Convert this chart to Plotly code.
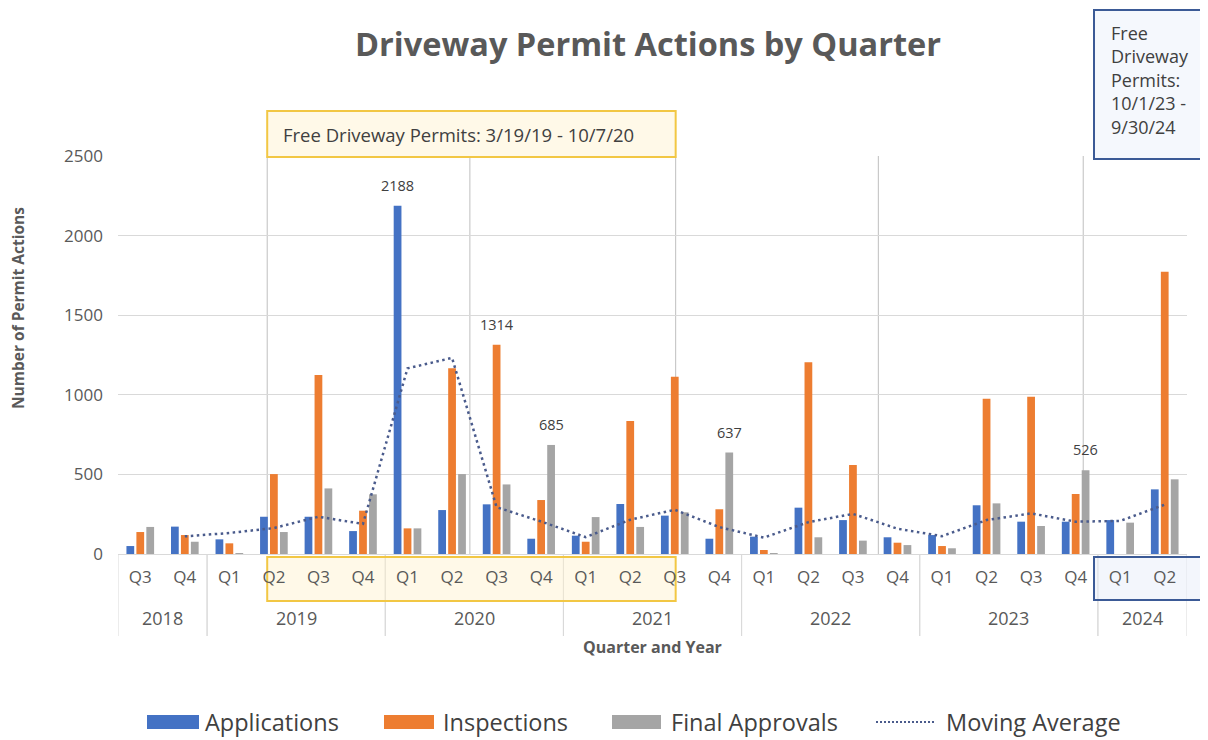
import plotly.graph_objects as go

# ---------------- data ----------------
quarters = ["Q3", "Q4",
            "Q1", "Q2", "Q3", "Q4",
            "Q1", "Q2", "Q3", "Q4",
            "Q1", "Q2", "Q3", "Q4",
            "Q1", "Q2", "Q3", "Q4",
            "Q1", "Q2", "Q3", "Q4",
            "Q1", "Q2"]
years = ["2018"] * 2 + ["2019"] * 4 + ["2020"] * 4 + ["2021"] * 4 + \
        ["2022"] * 4 + ["2023"] * 4 + ["2024"] * 2

applications = [50, 172, 92, 234, 234, 144, 2188, 276, 312, 96, 115, 314,
                241, 96, 109, 291, 213, 105, 119, 306, 203, 203, 213, 406]
inspections = [138, 119, 67, 502, 1124, 272, 161, 1166, 1314, 339, 77, 835,
               1114, 281, 25, 1204, 559, 71, 50, 975, 988, 377, 0, 1773]
final_approvals = [170, 77, 5, 138, 412, 375, 161, 502, 437, 685, 232, 170,
                   262, 637, 3, 105, 84, 56, 36, 318, 176, 526, 197, 469]
moving_average = [None, 111, 132, 163, 234, 189, 1166, 1232, 294, 204, 106, 215,
                  278, 169, 103, 200, 252, 159, 112, 213, 255, 203, 208, 310]
y_ticks = [0, 500, 1000, 1500, 2000, 2500]

# data labels shown on the chart: (series name, category index)
labeled_points = [("Applications", 6), ("Inspections", 8),
                  ("Final Approvals", 9), ("Final Approvals", 13),
                  ("Final Approvals", 21)]

# ---------------- styling ----------------
C_APP = "#4472C4"
C_INS = "#ED7D31"
C_FIN = "#A5A5A5"
C_MA = "#4A5B8C"
TXT = "#595959"
DARK = "#404040"
FONT = "Open Sans"

OFF = 8                      # page body margin
W, H = 1200, 732
L, R, T, B = 110, 21, 148, 186
plot_w = W - L - R
plot_h = H - T - B


def py(pix):
    """screen pixel row -> paper y"""
    return (H - B - (pix - OFF)) / plot_h


def px(pix):
    """screen pixel column -> paper x"""
    return (pix - OFF - L) / plot_w


x = list(range(len(quarters)))

fig = go.Figure()
series = {
    "Applications": (applications, C_APP),
    "Inspections": (inspections, C_INS),
    "Final Approvals": (final_approvals, C_FIN),
}
for name, (vals, col) in series.items():
    fig.add_trace(go.Bar(x=x, y=vals, name=name, showlegend=False,
                         marker=dict(color=col, line=dict(width=0))))

MA_DASH = "2.5px,3.5px"
fig.add_trace(go.Scatter(x=x, y=moving_average, name="Moving Average", mode="lines",
                         showlegend=False,
                         line=dict(color=C_MA, width=2.5, dash=MA_DASH),
                         connectgaps=False))

bargap = 0.33
bargroupgap = 0.22
cat_px = plot_w / len(quarters)
slot_px = cat_px * (1 - bargap) / 3
offsets = {"Applications": -slot_px, "Inspections": 0, "Final Approvals": slot_px}

annotations = []
shapes = []

# data labels
for name, idx in labeled_points:
    vals = series[name][0]
    annotations.append(dict(x=idx, y=vals[idx], xref="x", yref="y", text=str(vals[idx]),
                            showarrow=False, xshift=offsets[name], yshift=9,
                            yanchor="bottom", font=dict(family=FONT, size=14.5, color=DARK)))

# year labels & dividers
year_order = []
for yv in years:
    if yv not in year_order:
        year_order.append(yv)
for yv in year_order:
    idxs = [i for i, v in enumerate(years) if v == yv]
    annotations.append(dict(x=(idxs[0] + idxs[-1]) / 2, y=py(618), xref="x", yref="paper",
                            text=yv, showarrow=False, yanchor="middle",
                            font=dict(family=FONT, size=18, color=TXT)))
    for bnd in (idxs[0] - 0.5, idxs[-1] + 0.5):
        shapes.append(dict(type="line", xref="x", yref="paper", x0=bnd, x1=bnd,
                           y0=0, y1=py(636), line=dict(color="#D9D9D9", width=1), layer="below"))

# vertical reference lines inside the plot
for xv in [2.85, 7.40, 12.02, 16.57, 21.17]:
    shapes.append(dict(type="line", xref="x", yref="y", x0=xv, x1=xv, y0=0, y1=2500,
                       line=dict(color="#BFBFBF", width=1), layer="below"))

# free-permit period boxes
shapes.append(dict(type="rect", xref="x", yref="paper", x0=2.85, x1=12.02,
                   y0=py(601), y1=py(557), fillcolor="rgba(255,242,204,0.45)",
                   line=dict(color="#F2C744", width=2), layer="below"))
shapes.append(dict(type="rect", xref="x", yref="paper", x0=2.85, x1=12.02,
                   y0=py(157), y1=py(111), fillcolor="#FFF9E8",
                   line=dict(color="#F2C744", width=2), layer="above"))
shapes.append(dict(type="rect", xref="paper", yref="paper", x0=px(1094), x1=px(1214),
                   y0=py(600), y1=py(557), fillcolor="rgba(232,238,250,0.5)",
                   line=dict(color="#3B5A96", width=2), layer="below"))
shapes.append(dict(type="rect", xref="paper", yref="paper", x0=px(1094), x1=px(1214),
                   y0=py(159), y1=py(10), fillcolor="#F5F8FD",
                   line=dict(color="#3B5A96", width=2), layer="above"))

annotations.append(dict(x=px(281), y=py(134), xref="paper", yref="paper",
                        text="Free Driveway Permits: 3/19/19 - 10/7/20", showarrow=False,
                        xanchor="left", yanchor="middle",
                        font=dict(family=FONT, size=18.5, color=DARK)))
annotations.append(dict(x=px(1109), y=py(19), xref="paper", yref="paper",
                        text="Free<br>Driveway<br>Permits:<br>10/1/23 -<br>9/30/24",
                        showarrow=False, xanchor="left", yanchor="top", align="left",
                        font=dict(family=FONT, size=18, color=DARK)))

# axis titles
annotations.append(dict(x=px(652), y=py(647), xref="paper", yref="paper",
                        text="<b>Quarter and Year</b>", showarrow=False, yanchor="middle",
                        font=dict(family=FONT, size=16, color=TXT)))
annotations.append(dict(x=px(18), y=py(308), xref="paper", yref="paper",
                        text="<b>Number of Permit Actions</b>", showarrow=False, textangle=-90,
                        xanchor="center", yanchor="middle",
                        font=dict(family=FONT, size=15.5, color=TXT)))

# legend (drawn to match the original's wide swatches)
LEG_Y = 722
legend_items = [("Applications", C_APP, 147, 199, 203),
                ("Inspections", C_INS, 384, 434, 441),
                ("Final Approvals", C_FIN, 612, 661, 669),
                ("Moving Average", C_MA, 876, 936, 944)]
for name, col, s0, s1, tx in legend_items:
    if name == "Moving Average":
        shapes.append(dict(type="line", xref="paper", yref="paper", x0=px(s0), x1=px(s1),
                           y0=py(LEG_Y), y1=py(LEG_Y),
                           line=dict(color=col, width=2, dash="2px,2px")))
    else:
        shapes.append(dict(type="rect", xref="paper", yref="paper", x0=px(s0), x1=px(s1),
                           y0=py(LEG_Y + 7), y1=py(LEG_Y - 7), fillcolor=col, line=dict(width=0)))
    annotations.append(dict(x=px(tx), y=py(LEG_Y), xref="paper", yref="paper", text=name,
                            showarrow=False, xanchor="left", yanchor="middle",
                            font=dict(family=FONT, size=23.5, color=DARK)))

fig.update_layout(
    width=W, height=H,
    margin=dict(l=L, r=R, t=T, b=B, autoexpand=False),
    paper_bgcolor="white", plot_bgcolor="white",
    barmode="group", bargap=bargap, bargroupgap=bargroupgap,
    showlegend=False,
    title=dict(text="<b>Driveway Permit Actions by Quarter</b>", x=px(648), xref="paper",
               xanchor="center", y=1 - (45 - OFF) / H, yanchor="middle",
               font=dict(family=FONT, size=32.5, color=TXT)),
    font=dict(family=FONT, color=TXT),
    xaxis=dict(range=[-0.5, len(quarters) - 0.5], tickmode="array", tickvals=x,
               ticktext=quarters, ticks="", showgrid=False, zeroline=False, showline=False,
               tickfont=dict(family=FONT, size=17, color=TXT), ticklabelstandoff=11,
               fixedrange=True),
    yaxis=dict(range=[0, 2500], tickmode="array", tickvals=y_ticks, showgrid=True,
               gridcolor="#D9D9D9", gridwidth=1, zeroline=True, zerolinecolor="#D9D9D9",
               zerolinewidth=1, showline=False, ticks="", ticklabelstandoff=14,
               tickfont=dict(family=FONT, size=17, color=TXT)),
    shapes=shapes,
    annotations=annotations,
)

fig.write_html("out.html")
